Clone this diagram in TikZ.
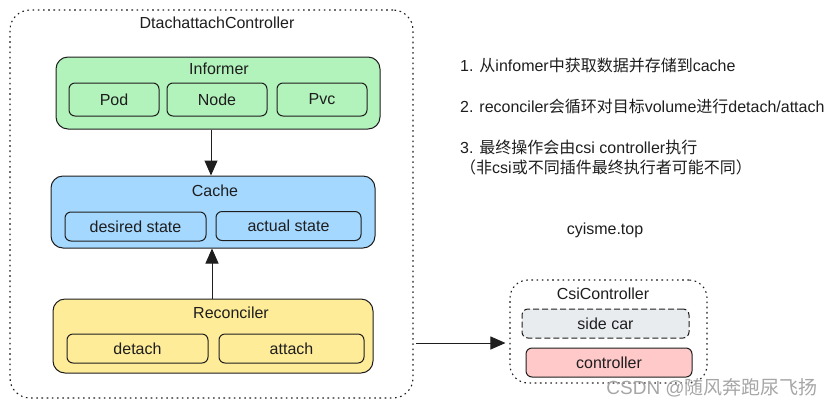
\documentclass[tikz,border=0pt]{standalone}
\usepackage{fontspec}
\setmainfont{Liberation Sans}
\newfontfamily\cjk{Noto Sans CJK SC}
\usepackage{tikz}
\usetikzlibrary{arrows.meta}
\usetikzlibrary{positioning}
\definecolor{ink}{HTML}{1E1E1E}
\definecolor{informerfill}{HTML}{B2F2BB}
\definecolor{cachefill}{HTML}{A5D8FF}
\definecolor{reconfill}{HTML}{FFEC99}
\definecolor{sidecarfill}{HTML}{E9ECEF}
\definecolor{ctrlfill}{HTML}{FFC9C9}
\newcommand{\zh}[1]{{\cjk #1}}
\tikzset{
  txt/.style = {font=\fontsize{16}{19}\selectfont, text=ink, inner sep=0pt},
  outerbox/.style = {draw=ink, line width=1.1pt, dash pattern=on 1.6pt off 3.6pt, rounded corners=20pt, inner sep=0pt},
  group/.style = {draw=ink, line width=1pt, rounded corners=12pt, inner sep=0pt},
  item/.style = {txt, draw=ink, line width=1pt, rounded corners=6pt, minimum height=29pt},
  flow/.style = {-{Triangle[length=15pt,width=13pt]}, draw=ink, line width=1pt}
}

\begin{document}
\begin{tikzpicture}[x=1pt,y=-1pt]
  \useasboundingbox (0,0) rectangle (832,408);
  % left controller
  \node[outerbox, minimum width=403pt, minimum height=388pt] (dac) at (211.5,204) {};
  \node[txt] (dactitle) at (217,23) {DtachattachController};

  \node[group, fill=informerfill, minimum width=324pt, minimum height=72pt] (informer) at (218,93) {};
  \node[txt] (informertitle) at (219,69) {Informer};
  \foreach \n/\x/\w/\t in {pod/114/90/Pod, node/217/100/Node, pvc/322/90/Pvc}
    \node[item, fill=informerfill, minimum width=\w pt, minimum height=33pt] (\n) at (\x,99.5) {\t};

  \node[group, fill=cachefill, minimum width=324pt, minimum height=72pt] (cache) at (213,212) {};
  \node[txt] (cachetitle) at (215,191) {Cache};
  \node[item, fill=cachefill, minimum width=141pt] (desired) at (135.5,226.5) {desired state};
  \node[item, fill=cachefill, minimum width=145pt] (actual) at (288.5,226) {actual state};

  \node[group, fill=reconfill, minimum width=320pt, minimum height=74pt] (reconciler) at (213,336) {};
  \node[txt] (recontitle) at (231,313) {Reconciler};
  \node[item, fill=reconfill, minimum width=141pt] (detach) at (137.5,348.5) {detach};
  \node[item, fill=reconfill, minimum width=145pt] (attach) at (291.5,348.5) {attach};

  \draw[flow] ([xshift=-7pt]informer.south) -- ([xshift=-2pt]cache.north);
  \draw[flow] ([xshift=-1pt]reconciler.north) -- ([xshift=-1pt]cache.south);

  % csi controller
  \node[outerbox, rounded corners=18pt, minimum width=197pt, minimum height=103pt] (csi) at (608.5,331.5) {};
  \node[txt] (csititle) at (603,294) {CsiController};
  \node[item, fill=sidecarfill, dashed, dash pattern=on 6pt off 3pt, minimum width=167pt] (sidecar) at (605.5,323.5) {side car};
  \node[item, fill=ctrlfill, minimum width=166pt] (controller) at (609,362.5) {controller};

  \coordinate (callstart) at (416,343);
  \draw[flow, shorten >=4pt] (callstart) -- (callstart -| csi.west);

  % notes
  \node[txt, anchor=west] (note1) at (460,65) {1. \zh{从}infomer\zh{中获取数据并存储到}cache};
  \node[txt, anchor=west] (note2) at (460,106) {2. reconciler\zh{会循环对目标}volume\zh{进行}detach/attach};
  \node[txt, anchor=west] (note3) at (460,147) {3. \zh{最终操作会由}csi controller\zh{执行}};
  \node[txt, anchor=west] (note3b) at (460,167) {\zh{（非}csi\zh{或不同插件最终执行者可能不同）}};
  \node[txt] (site) at (605,230) {cyisme.top};
  \node[txt, anchor=east, text=black!35, font=\fontsize{19}{22}\selectfont] (mark) at (818,388) {CSDN @\zh{随风奔跑尿飞扬}};
\end{tikzpicture}
\end{document}
